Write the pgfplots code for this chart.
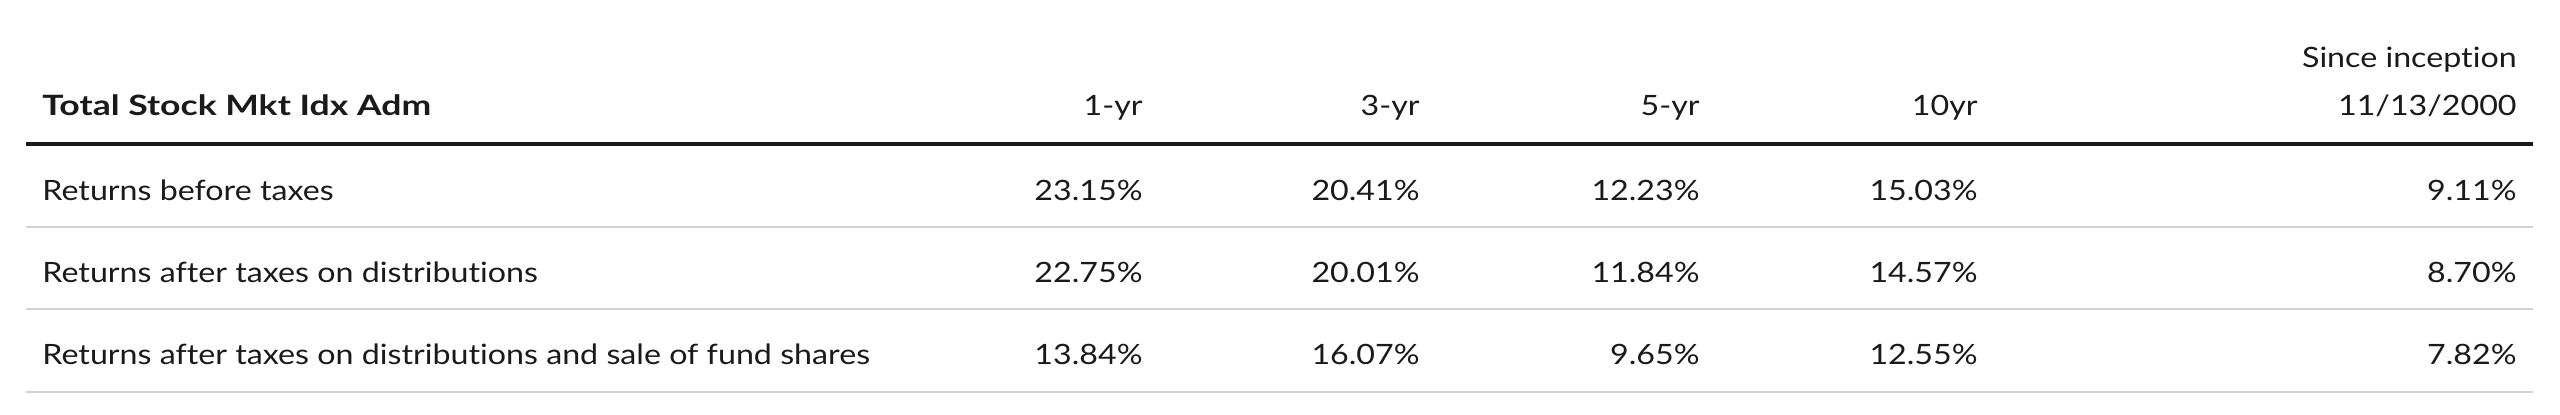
\documentclass[border=0pt]{standalone}
\usepackage{pgfplots}
\pgfplotsset{compat=1.18}
\usepackage{pgfplotstable}
\usepackage{fontspec}
\setmainfont{Lato}[FakeStretch=1.15, Ligatures=NoCommon, BoldFeatures={FakeStretch=1.27}]
\definecolor{txt}{HTML}{1A1A1A}
\definecolor{rule}{HTML}{D3D3D3}
\pgfplotstableread{
y oneyr threeyr fiveyr tenyr since
200 23.15 20.41 12.23 15.03 9.11
282 22.75 20.01 11.84 14.57 8.70
364 13.84 16.07 9.65 12.55 7.82
}\returns
\begin{document}
\begin{tikzpicture}
\begin{axis}[
  width=1280pt, height=207pt, scale only axis,
  xmin=0, xmax=2560, ymin=0, ymax=414, y dir=reverse,
  hide axis, clip=false,
  /pgf/number format/assume math mode=true,
  every node near coord/.append style={anchor=base east, inner sep=0pt, font=\fontsize{14}{16}\selectfont, text=txt},
]
\addplot[draw=none, forget plot] coordinates {(0,0) (2560,414)};
% rules
\addplot[line width=2pt, txt] coordinates {(26,144) (2533,144)};
\addplot[line width=0.8pt, rule] coordinates {(26,227) (2533,227)};
\addplot[line width=0.8pt, rule] coordinates {(26,309) (2533,309)};
\addplot[line width=0.8pt, rule] coordinates {(26,392) (2533,392)};
% values
\pgfplotsset{valstyle/.style={only marks, mark=none, nodes near coords={\pgfmathprintnumber[fixed, fixed zerofill, precision=2]{\pgfplotspointmeta}\%}, point meta=explicit}}
\addplot[valstyle] table[x expr=1143, y=y, meta=oneyr] {\returns};
\addplot[valstyle] table[x expr=1420, y=y, meta=threeyr] {\returns};
\addplot[valstyle] table[x expr=1700, y=y, meta=fiveyr] {\returns};
\addplot[valstyle] table[x expr=1978, y=y, meta=tenyr] {\returns};
\addplot[valstyle] table[x expr=2517, y=y, meta=since] {\returns};
% row labels
\addplot[only marks, mark=none, point meta=explicit symbolic, nodes near coords,
  every node near coord/.append style={anchor=base west}] coordinates {
  (42,200) [Returns before taxes]
  (42,282) [Returns after taxes on distributions]
  (42,364) [Returns after taxes on distributions and sale of fund shares]
};
% headers
\addplot[only marks, mark=none, point meta=explicit symbolic, nodes near coords,
  every node near coord/.append style={anchor=base west, font=\fontsize{14}{16}\selectfont\bfseries}] coordinates {
  (42,115) [Total Stock Mkt Idx Adm]
};
\addplot[only marks, mark=none, point meta=explicit symbolic, nodes near coords] coordinates {
  (1143,115) [1-yr]
  (1420,115) [3-yr]
  (1700,115) [5-yr]
  (1978,115) [10yr]
  (2517,67) [Since inception]
  (2517,115) [11/13/2000]
};
\end{axis}
\end{tikzpicture}
\end{document}
